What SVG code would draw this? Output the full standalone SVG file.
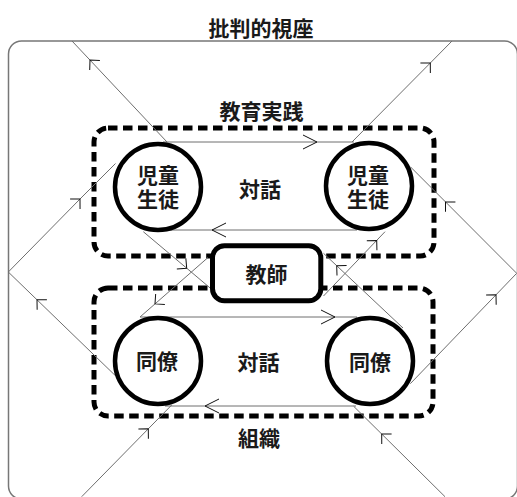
<svg xmlns="http://www.w3.org/2000/svg" width="517" height="497" viewBox="0 0 517 497">
<style>
.frame{fill:none;stroke:#777;stroke-width:1.5}
.dash{fill:none;stroke:#000;stroke-width:5;stroke-dasharray:9.5 5.5}
.ln{fill:none;stroke:#6e6e6e;stroke-width:1;marker-mid:url(#ad)}
.lh{fill:none;stroke:#6e6e6e;stroke-width:1;marker-mid:url(#ah)}
.circ{fill:#fff;stroke:#000;stroke-width:4.5}
.box{fill:#fff;stroke:#000;stroke-width:5}
.t{font-family:"Noto Sans CJK JP","Noto Sans CJK SC",sans-serif;font-weight:700;font-size:21px;fill:#1a1a1a;text-anchor:middle;dominant-baseline:central}
</style>
<defs>
<marker id="ad" markerUnits="userSpaceOnUse" orient="auto" viewBox="-10 -10 20 20" markerWidth="20" markerHeight="20" refX="0" refY="0" overflow="visible">
<path d="M-7,-7 L0,0 L-7,7" fill="none" stroke="#111" stroke-width="1"/>
</marker>
<marker id="ah" markerUnits="userSpaceOnUse" orient="auto" viewBox="-16 -10 20 20" markerWidth="20" markerHeight="20" refX="0" refY="0" overflow="visible">
<path d="M-14,-7 L0,0 L-14,7" fill="none" stroke="#111" stroke-width="1"/>
</marker>
</defs>

<g id="critical-perspective">
<rect class="frame" x="8.5" y="41" width="509" height="458" rx="13"/>
<text class="t" x="261" y="27">批判的視座</text>
</g>

<g id="practice">
<rect class="dash" x="94" y="128" width="340" height="128" rx="14"/>
<text class="t" x="261.5" y="110">教育実践</text>
</g>

<g id="organization">
<rect class="dash" x="94" y="288" width="339" height="128" rx="14"/>
<text class="t" x="259" y="437">組織</text>
</g>

<g id="connectors">
<polyline class="ln" points="167,142 90,60.1 72,41"/>
<polyline class="lh" points="163,142 317,142 354,142"/>
<polyline class="ln" points="352,142 430.3,63 452,41"/>
<polyline class="ln" points="516.7,273.3 445.5,201.9 410.3,166.7"/>
<polyline class="ln" points="410.3,383.7 496,294.8 516.7,273.3"/>
<polyline class="ln" points="445,496.7 381.7,434 353.7,406.3"/>
<polyline class="lh" points="356,406 205,406 165,406"/>
<polyline class="ln" points="81.7,496.7 148.3,428.8 171.7,405"/>
<polyline class="ln" points="115,375.3 37,299.8 8.3,272"/>
<polyline class="ln" points="8.3,272 80,199 115.5,163.5"/>
<polyline class="lh" points="357,230 212,230 147,230"/>
<polyline class="ln" points="143.3,231.7 186.7,268.2 210.5,288.3"/>
<polyline class="ln" points="208,257.5 155,303.9 140,317"/>
<polyline class="lh" points="140,317 335,317 357,317"/>
<polyline class="ln" points="323.5,296 376.7,240.4 385,231.7"/>
<polyline class="ln" points="403,328 336.7,265.7 323.5,253.3"/>
</g>

<g id="pupils-left">
<circle class="circ" cx="158" cy="187" r="43"/>
<text class="t" x="158" y="174">児童<tspan x="158" dy="24">生徒</tspan></text>
</g>
<g id="pupils-right">
<circle class="circ" cx="369" cy="186" r="43"/>
<text class="t" x="368" y="174">児童<tspan x="368" dy="24">生徒</tspan></text>
</g>
<g id="dialogue-top">
<text class="t" x="260" y="188">対話</text>
</g>

<g id="teacher">
<rect class="box" x="212.5" y="245.8" width="108.3" height="55" rx="12"/>
<text class="t" x="266.5" y="273">教師</text>
</g>

<g id="colleague-left">
<circle class="circ" cx="158" cy="361" r="43"/>
<text class="t" x="157" y="360">同僚</text>
</g>
<g id="colleague-right">
<circle class="circ" cx="370" cy="361" r="43"/>
<text class="t" x="370" y="361">同僚</text>
</g>
<g id="dialogue-bottom">
<text class="t" x="258.5" y="361">対話</text>
</g>
</svg>
